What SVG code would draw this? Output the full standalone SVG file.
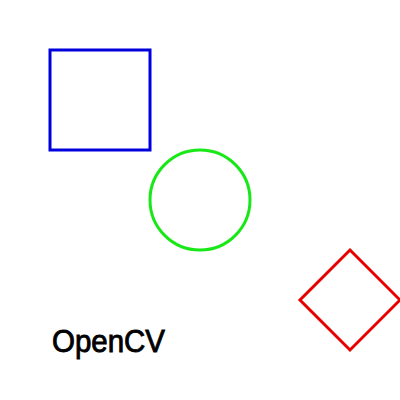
<svg xmlns="http://www.w3.org/2000/svg" width="400" height="400" viewBox="0 0 400 400">
<style>
.s{fill:none;stroke-width:3}
.t{font-family:"Liberation Sans",Arial,sans-serif;font-size:32px;fill:#000;stroke:#000;stroke-width:0.9}
</style>
<rect width="400" height="400" fill="#fff"/>
<g id="square"><rect class="s" x="50" y="50" width="100" height="100" stroke="#0000dd"/></g>
<g id="circle"><circle class="s" cx="200" cy="200" r="50" stroke="#18e818"/></g>
<g id="diamond"><polygon class="s" points="350,250 400,300 350,350 300,300" stroke="#e60000"/></g>
<g id="label"><text class="t" x="52" y="352" textLength="113" lengthAdjust="spacingAndGlyphs">OpenCV</text></g>
<g id="connectors"/>
</svg>
